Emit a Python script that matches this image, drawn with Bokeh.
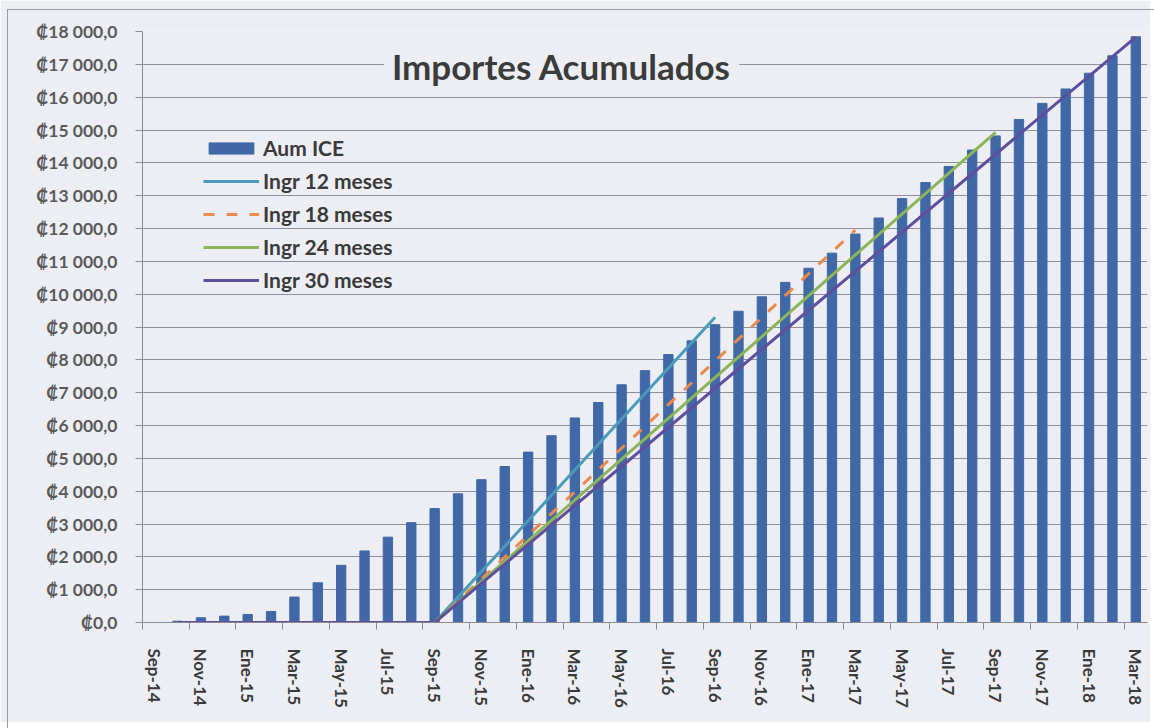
from bokeh.plotting import figure
from bokeh.models import FixedTicker, Range1d, Legend, LegendItem, Label
from bokeh.embed import file_html
from bokeh.resources import INLINE

# ---------------- data ----------------
months = ["Sep-14", "Oct-14", "Nov-14", "Dic-14", "Ene-15", "Feb-15", "Mar-15", "Abr-15",
          "May-15", "Jun-15", "Jul-15", "Ago-15", "Sep-15", "Oct-15", "Nov-15", "Dic-15",
          "Ene-16", "Feb-16", "Mar-16", "Abr-16", "May-16", "Jun-16", "Jul-16", "Ago-16",
          "Sep-16", "Oct-16", "Nov-16", "Dic-16", "Ene-17", "Feb-17", "Mar-17", "Abr-17",
          "May-17", "Jun-17", "Jul-17", "Ago-17", "Sep-17", "Oct-17", "Nov-17", "Dic-17",
          "Ene-18", "Feb-18", "Mar-18"]

aum_ice = [0, 40, 145, 195, 245, 335, 775, 1210, 1740, 2180, 2600, 3040,
           3470, 3920, 4350, 4750, 5190, 5690, 6230, 6700, 7240, 7670, 8160, 8580,
           9070, 9480, 9920, 10360, 10790, 11250, 11830, 12320, 12910, 13400, 13890, 14390,
           14820, 15320, 15810, 16250, 16730, 17260, 17840]

ingr12_months = ["Oct-14", "Sep-15", "Sep-16"]
ingr12_vals = [0, 0, 9300]
ingr18_months = ["Oct-14", "Sep-15", "Mar-17"]
ingr18_vals = [0, 0, 11950]
ingr24_months = ["Oct-14", "Sep-15", "Sep-17"]
ingr24_vals = [0, 0, 14930]
ingr30_months = ["Oct-14", "Sep-15", "Mar-18"]
ingr30_vals = [0, 0, 17830]

y_ticks = list(range(0, 18001, 1000))
y_tick_labels = ["₡0,0", "₡1 000,0", "₡2 000,0", "₡3 000,0", "₡4 000,0", "₡5 000,0",
                 "₡6 000,0", "₡7 000,0", "₡8 000,0", "₡9 000,0", "₡10 000,0", "₡11 000,0",
                 "₡12 000,0", "₡13 000,0", "₡14 000,0", "₡15 000,0", "₡16 000,0",
                 "₡17 000,0", "₡18 000,0"]

title_text = "Importes Acumulados"

# ---------------- style ----------------
BG = "#eceef4"
BAR = "#4068a6"
TEAL = "#4a9bbb"
ORANGE = "#eb8a4c"
GREEN = "#8cb55a"
PURPLE = "#5f4e9c"
GRID = "#8f8f99"
FONT = "Lato"

idx = {m: i for i, m in enumerate(months)}
def xpos(ms):
    return [idx[m] + 0.5 for m in ms]

n = len(months)
p = figure(width=1150, height=722, output_backend="svg", toolbar_location=None,
           x_range=Range1d(0, n), y_range=Range1d(0, 18000),
           min_border_left=142, min_border_right=3, min_border_top=31, min_border_bottom=100)
p.background_fill_color = BG
p.border_fill_color = BG
p.outline_line_color = None

bars = p.vbar(x=xpos(months), top=aum_ice, width=0.4, color=BAR)
l12 = p.line(xpos(ingr12_months), ingr12_vals, line_color=TEAL, line_width=3)
l18 = p.line(xpos(ingr18_months), ingr18_vals, line_color=ORANGE, line_width=3, line_dash="11 12")
l24 = p.line(xpos(ingr24_months), ingr24_vals, line_color=GREEN, line_width=3)
l30 = p.line(xpos(ingr30_months), ingr30_vals, line_color=PURPLE, line_width=3)

# x axis
label_pos = [i + 0.5 for i in range(0, n, 2)]
p.xaxis.ticker = FixedTicker(ticks=label_pos, minor_ticks=list(range(0, n, 2)))
p.xaxis.major_label_overrides = {i + 0.5: months[i] for i in range(0, n, 2)}
p.xaxis.major_label_orientation = "vertical"
p.xaxis.major_tick_line_color = None
p.xaxis.major_tick_out = 0
p.xaxis.major_tick_in = 0
p.xaxis.minor_tick_in = 0
p.xaxis.minor_tick_out = 7
p.xaxis.minor_tick_line_color = "#888890"
p.xaxis.axis_line_color = "#888890"
p.xaxis.major_label_standoff = 19
p.xaxis.major_label_text_font = FONT
p.xaxis.major_label_text_font_style = "bold"
p.xaxis.major_label_text_font_size = "17px"
p.xaxis.major_label_text_color = "#3a3a3a"
p.xgrid.grid_line_color = None

# y axis
p.yaxis.ticker = FixedTicker(ticks=y_ticks)
p.yaxis.major_label_overrides = {v: s for v, s in zip(y_ticks, y_tick_labels)}
p.yaxis.major_tick_in = 0
p.yaxis.major_tick_out = 7
p.yaxis.major_tick_line_color = GRID
p.yaxis.minor_tick_line_color = None
p.yaxis.axis_line_color = "#888890"
p.yaxis.major_label_standoff = 18
p.yaxis.major_label_text_font = FONT
p.yaxis.major_label_text_font_style = "bold"
p.yaxis.major_label_text_font_size = "17.5px"
p.yaxis.major_label_text_color = "#5a5a5a"
p.ygrid.grid_line_color = GRID
p.ygrid.grid_line_width = 1

# title
title = Label(x=17.93, y=16950, text=title_text, text_align="center", text_baseline="middle",
              text_font=FONT, text_font_style="bold", text_font_size="35px",
              text_color="#3b3b3b", background_fill_color=BG, padding=8)
p.add_layout(title)

# legend
legend = Legend(items=[LegendItem(label="Aum ICE", renderers=[bars]),
                       LegendItem(label="Ingr 12 meses", renderers=[l12]),
                       LegendItem(label="Ingr 18 meses", renderers=[l18]),
                       LegendItem(label="Ingr 24 meses", renderers=[l24]),
                       LegendItem(label="Ingr 30 meses", renderers=[l30])],
                location=(61, 330), orientation="vertical",
                background_fill_alpha=0, border_line_color=None,
                label_text_font=FONT, label_text_font_style="bold",
                label_text_font_size="21px", label_text_color="#3a3a3a",
                glyph_width=56, glyph_height=14, label_standoff=4,
                spacing=8, padding=0, margin=0)
p.add_layout(legend)

html = file_html(p, INLINE)
frame_div = ('<div style="position:absolute;left:7px;top:9px;width:1147px;height:719px;'
             'border-left:1px solid #9a9aa6;border-top:1px solid #9a9aa6;'
             'pointer-events:none;box-sizing:border-box"></div>')
html = html.replace("<body>", '<body style="background:%s; margin:0; overflow:hidden">' % BG, 1)
html = html.replace("</body>", frame_div + "</body>", 1)
open("out.html", "w").write(html)
